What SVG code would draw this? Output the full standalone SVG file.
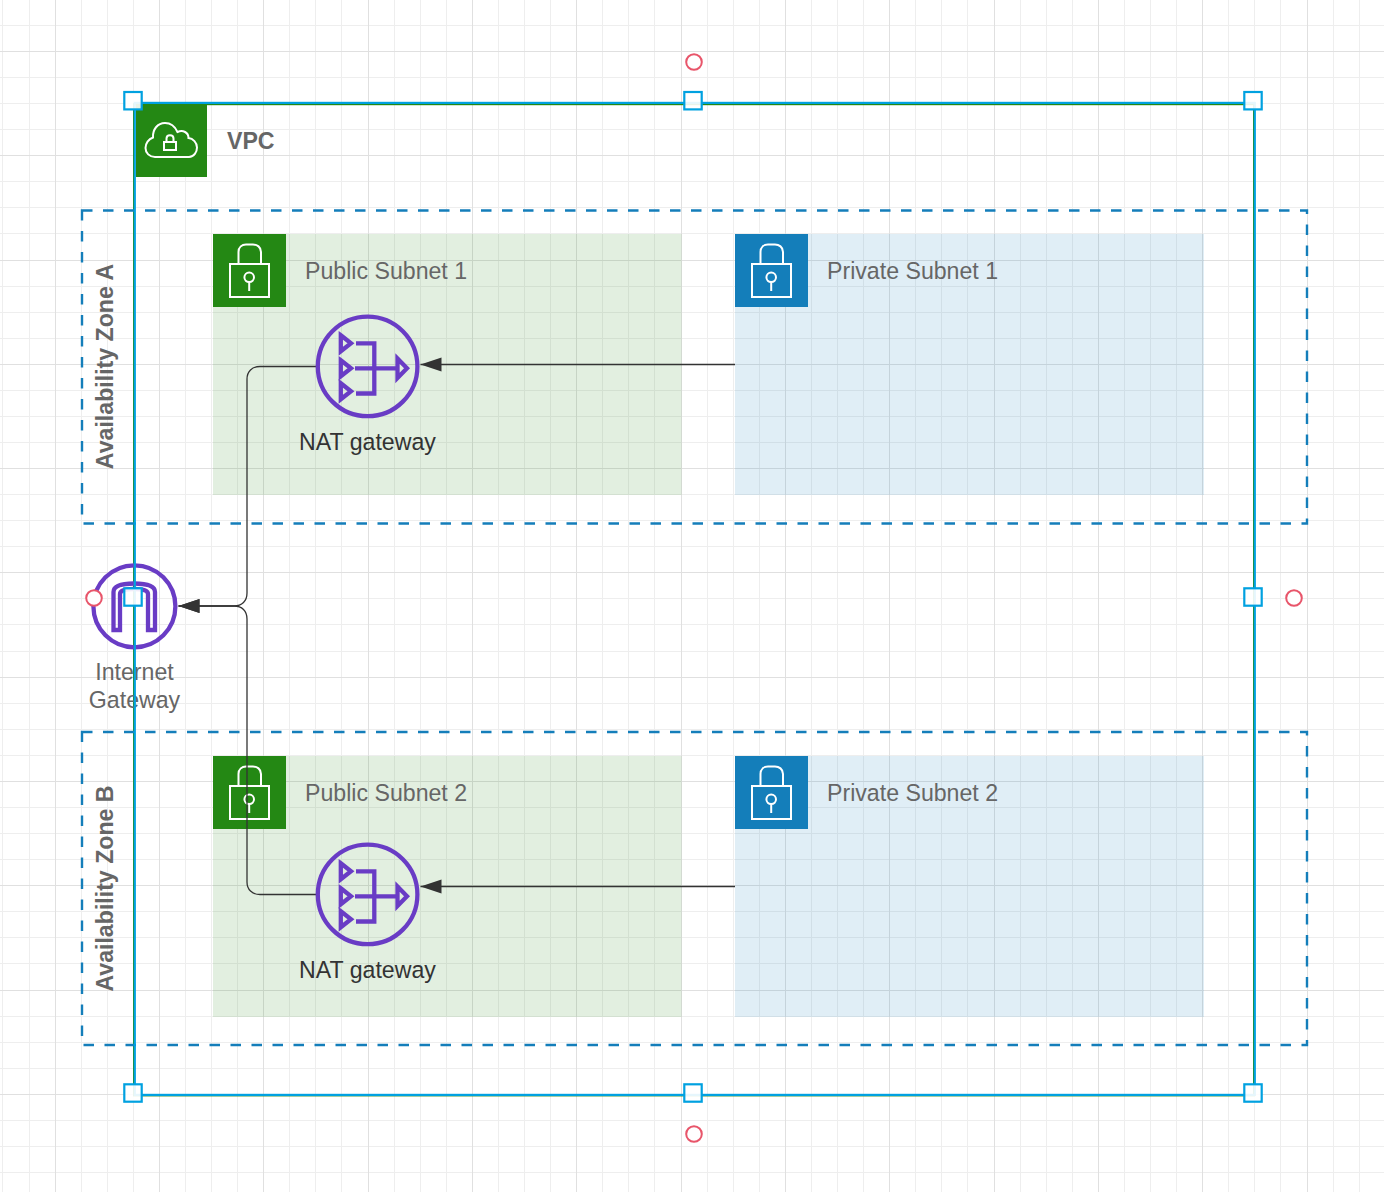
<svg xmlns="http://www.w3.org/2000/svg" xmlns:xlink="http://www.w3.org/1999/xlink" width="1384" height="1192" viewBox="0 0 1384 1192">
<style>
text{font-family:"Liberation Sans",Arial,sans-serif}
.minor{fill:none;stroke:#eeeeee;stroke-width:1}
.major{fill:none;stroke:#e0e0e0;stroke-width:1}
.pub{fill:#248814;fill-opacity:.135}
.pri{fill:#147eba;fill-opacity:.135}
.az{fill:none;stroke:#147eba;stroke-width:2.4;stroke-dasharray:10.5 10.5}
.lbl{font-size:23.15px;fill:#666666}
.bold{font-size:23.15px;font-weight:bold;fill:#666666}
.dark{font-size:23.15px;fill:#333333}
.ic{fill:none;stroke:#ffffff;stroke-width:2}
.pur{fill:none;stroke:#693cc5;stroke-width:4.3}
.conn{fill:none;stroke:#333333;stroke-width:1.3}
.handle{fill:#ffffff;fill-opacity:.9;stroke:#00a1e0;stroke-width:2.2}
.rot{fill:#ffffff;stroke:#e8556a;stroke-width:2}
</style>
<defs>
<marker id="arrow" markerUnits="userSpaceOnUse" markerWidth="22" markerHeight="16" refX="21" refY="7.5" orient="auto">
<path d="M0 7.5L21 0.5V14.5Z" fill="#333333" transform="translate(21 15) rotate(180)"/>
</marker>
<g id="lock">
<rect class="ic" x="17" y="30" width="39" height="33"/>
<path class="ic" d="M25.5 30V18C25.5 13 29 10.5 33 10.5H40C44 10.5 48 13 48 18V30"/>
<circle class="ic" cx="36.2" cy="43.3" r="4.8"/>
<path class="ic" d="M36.2 48V57"/>
</g>
<g id="natIcon">
<circle class="pur" cx="367.6" cy="366.4" r="49.8"/>
<path class="pur" d="M340.8 335.3L351 343.3L340.8 351.3Z"/>
<path class="pur" d="M340.8 360.3L351 368.3L340.8 376.3Z"/>
<path class="pur" d="M340.8 383.3L351 391.3L340.8 399.3Z"/>
<path class="pur" d="M397.5 358.6L407 368.3L397.5 378Z"/>
<path class="pur" d="M355 368.3H397M356 343.3H374.3V393.5H356"/>
</g>
</defs>
<rect width="1384" height="1192" fill="#ffffff"/>
<g id="grid">
<path class="minor" d="M2.5 0V1192M29.5 0V1192M81.5 0V1192M107.5 0V1192M133.5 0V1192M185.5 0V1192M211.5 0V1192M237.5 0V1192M289.5 0V1192M315.5 0V1192M341.5 0V1192M394.5 0V1192M420.5 0V1192M446.5 0V1192M498.5 0V1192M524.5 0V1192M550.5 0V1192M602.5 0V1192M628.5 0V1192M654.5 0V1192M707.5 0V1192M733.5 0V1192M759.5 0V1192M811.5 0V1192M837.5 0V1192M863.5 0V1192M915.5 0V1192M941.5 0V1192M967.5 0V1192M1020.5 0V1192M1046.5 0V1192M1072.5 0V1192M1124.5 0V1192M1150.5 0V1192M1176.5 0V1192M1228.5 0V1192M1254.5 0V1192M1280.5 0V1192M1333.5 0V1192M1359.5 0V1192M0 25.5H1384M0 77.5H1384M0 103.5H1384M0 129.5H1384M0 181.5H1384M0 207.5H1384M0 233.5H1384M0 286.5H1384M0 312.5H1384M0 338.5H1384M0 390.5H1384M0 416.5H1384M0 442.5H1384M0 494.5H1384M0 520.5H1384M0 546.5H1384M0 598.5H1384M0 624.5H1384M0 651.5H1384M0 703.5H1384M0 729.5H1384M0 755.5H1384M0 807.5H1384M0 833.5H1384M0 859.5H1384M0 911.5H1384M0 937.5H1384M0 963.5H1384M0 1016.5H1384M0 1042.5H1384M0 1068.5H1384M0 1120.5H1384M0 1146.5H1384M0 1172.5H1384"/>
<path class="major" d="M55.5 0V1192M159.5 0V1192M263.5 0V1192M368.5 0V1192M472.5 0V1192M576.5 0V1192M681.5 0V1192M785.5 0V1192M889.5 0V1192M994.5 0V1192M1098.5 0V1192M1202.5 0V1192M1307.5 0V1192M0 51.5H1384M0 155.5H1384M0 260.5H1384M0 364.5H1384M0 468.5H1384M0 572.5H1384M0 677.5H1384M0 781.5H1384M0 885.5H1384M0 990.5H1384M0 1094.5H1384"/>
</g>
<g id="vpc">
<rect x="134" y="104.2" width="1120" height="991.2" fill="none" stroke="#248814" stroke-width="2"/>
<rect x="136" y="104" width="71" height="73" fill="#248814"/>
<path class="ic" d="M155 157H189C194 157 197 152 197 147.5C197 142.5 193 138.5 188.5 138C188.5 132.5 183 129.5 177.5 132C175 126.5 171 123 165 123C157.5 123 152.5 129.5 153 137.5C148.5 139 145.5 143.5 145.5 148C145.5 153 149.5 157 155 157Z"/>
<rect class="ic" x="164" y="142" width="12" height="8"/>
<path class="ic" d="M166.5 142V138.5C166.5 134 173.5 134 173.5 138.5V142"/>
<text class="bold" x="227" y="148.5">VPC</text>
</g>
<g id="az-a">
<rect class="az" x="82" y="210.5" width="1225" height="313"/>
<text class="bold" transform="translate(113 366.5) rotate(-90)" text-anchor="middle">Availability Zone A</text>
</g>
<g id="az-b">
<rect class="az" x="82" y="732" width="1225" height="313"/>
<text class="bold" transform="translate(113 888.5) rotate(-90)" text-anchor="middle">Availability Zone B</text>
</g>
<g id="public-subnet-1">
<rect class="pub" x="213" y="234" width="468.5" height="261"/>
<rect x="213" y="234" width="73" height="73" fill="#248814"/>
<use xlink:href="#lock" href="#lock" transform="translate(213 234)"/>
<text class="lbl" x="305" y="279">Public Subnet 1</text>
</g>
<g id="private-subnet-1">
<rect class="pri" x="735" y="234" width="469" height="261"/>
<rect x="735" y="234" width="73" height="73" fill="#147eba"/>
<use xlink:href="#lock" href="#lock" transform="translate(735 234)"/>
<text class="lbl" x="827" y="279">Private Subnet 1</text>
</g>
<g id="public-subnet-2">
<rect class="pub" x="213" y="756" width="468.5" height="261"/>
<rect x="213" y="756" width="73" height="73" fill="#248814"/>
<use xlink:href="#lock" href="#lock" transform="translate(213 756)"/>
<text class="lbl" x="305" y="801">Public Subnet 2</text>
</g>
<g id="private-subnet-2">
<rect class="pri" x="735" y="756" width="469" height="261"/>
<rect x="735" y="756" width="73" height="73" fill="#147eba"/>
<use xlink:href="#lock" href="#lock" transform="translate(735 756)"/>
<text class="lbl" x="827" y="801">Private Subnet 2</text>
</g>
<g id="connectors">
<path class="conn" d="M735 364.5H420.5" marker-end="url(#arrow)"/>
<path class="conn" d="M735 886.5H420.5" marker-end="url(#arrow)"/>
<path class="conn" d="M316 366.5H260C252 366.5 247 371.5 247 379V593C247 601 242 606 234 606H178.5" marker-end="url(#arrow)"/>
<path class="conn" d="M316 894.5H260C252 894.5 247 889.5 247 882V619C247 611 242 606 234 606H178.5" marker-end="url(#arrow)"/>
</g>
<g id="nat-gateway-1">
<use xlink:href="#natIcon" href="#natIcon"/>
<text class="dark" x="367.5" y="450" text-anchor="middle">NAT gateway</text>
</g>
<g id="nat-gateway-2">
<use xlink:href="#natIcon" href="#natIcon" transform="translate(0 528)"/>
<text class="dark" x="367.5" y="978" text-anchor="middle">NAT gateway</text>
</g>
<g id="internet-gateway">
<circle class="pur" cx="134.4" cy="606.3" r="41"/>
<path class="pur" d="M113.5 630V592C113.5 586 122 583.5 134 583.5C146 583.5 155 586 155 592V630H148V594C148 590 142 589 134 589C126 589 120 590 120 594V630Z"/>
<text class="lbl" x="134.5" y="680" text-anchor="middle">Internet</text>
<text class="lbl" x="134.5" y="708" text-anchor="middle">Gateway</text>
</g>
<g id="selection">
<rect x="134.8" y="102.9" width="1120" height="992" fill="none" stroke="#00a1e0" stroke-width="2.2"/>
<rect class="handle" x="124.3" y="92" width="17.4" height="17.4"/>
<rect class="handle" x="684.3" y="92" width="17.4" height="17.4"/>
<rect class="handle" x="1244.3" y="92" width="17.4" height="17.4"/>
<rect class="handle" x="124.3" y="588.3" width="17.4" height="17.4"/>
<rect class="handle" x="1244.3" y="588.3" width="17.4" height="17.4"/>
<rect class="handle" x="124.3" y="1084.3" width="17.4" height="17.4"/>
<rect class="handle" x="684.3" y="1084.3" width="17.4" height="17.4"/>
<rect class="handle" x="1244.3" y="1084.3" width="17.4" height="17.4"/>
<circle class="rot" cx="694" cy="62" r="7.8"/>
<circle class="rot" cx="1294" cy="598" r="7.8"/>
<circle class="rot" cx="94" cy="598" r="7.8"/>
<circle class="rot" cx="694" cy="1134" r="7.8"/>
</g>
</svg>
